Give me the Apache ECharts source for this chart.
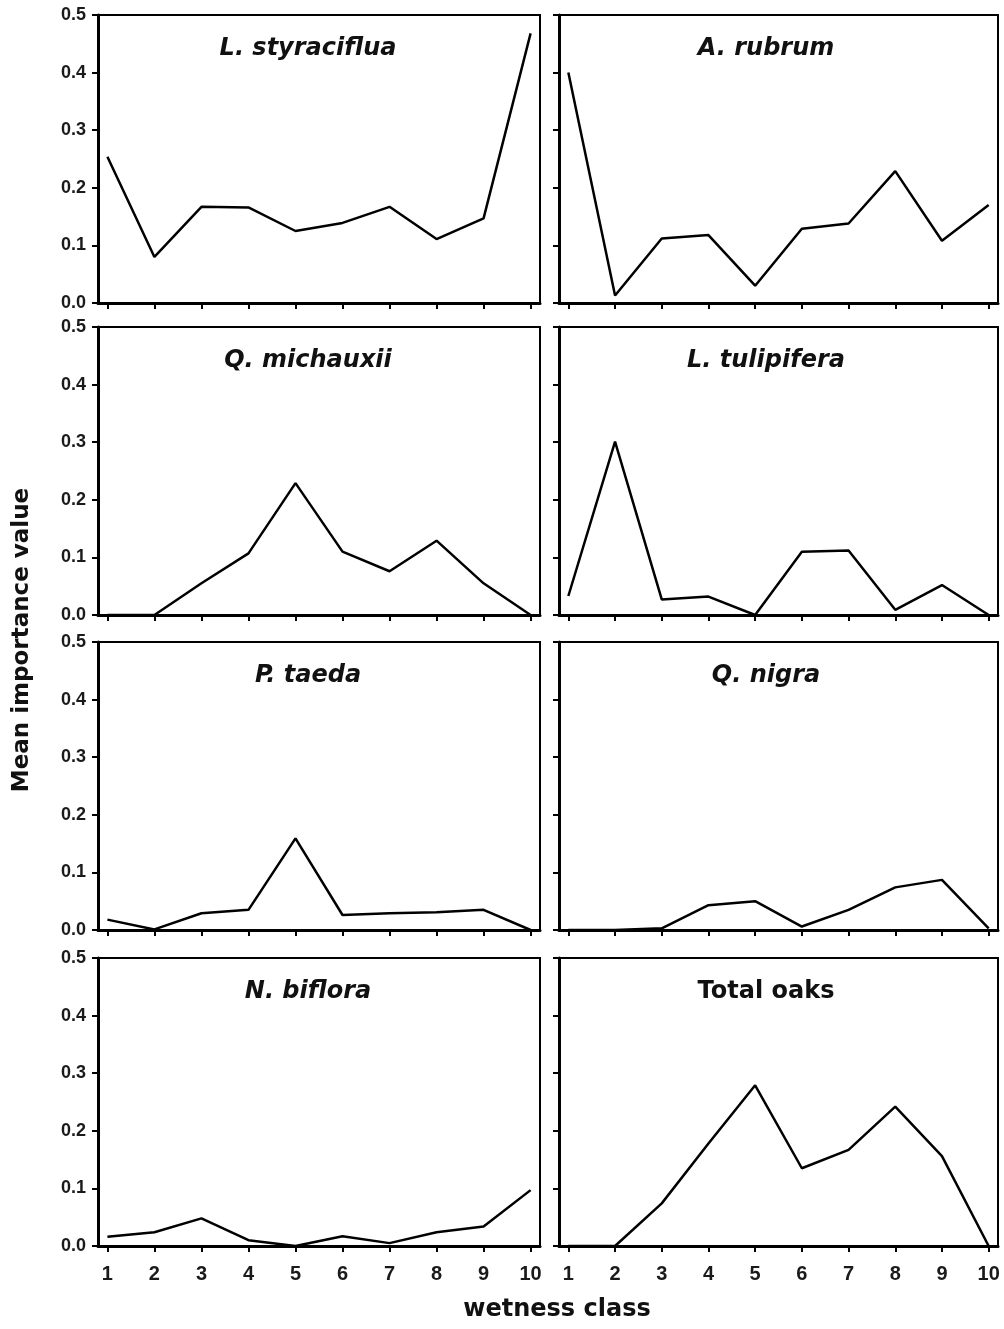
<!DOCTYPE html>
<html>
<head>
<meta charset="utf-8">
<script src="https://cdn.jsdelivr.net/npm/echarts@6/dist/echarts.min.js"></script>
<style>
  html, body { margin: 0; padding: 0; background: #fff; }
  #chart { width: 1004px; height: 1329px; }
</style>
</head>
<body>
<div id="chart"></div>
<script>
// wetness classes on the x axis
const classes = [1, 2, 3, 4, 5, 6, 7, 8, 9, 10]

// mean importance value per wetness class
const styraciflua = [0.254, 0.080, 0.167, 0.166, 0.125, 0.139, 0.167, 0.111, 0.147, 0.468]
const rubrum = [0.400, 0.013, 0.112, 0.118, 0.030, 0.129, 0.138, 0.229, 0.108, 0.170]
const michauxii = [0, 0, 0.055, 0.107, 0.229, 0.110, 0.076, 0.129, 0.055, 0]
const tulipifera = [0.033, 0.301, 0.027, 0.032, 0, 0.110, 0.112, 0.009, 0.052, 0]
const taeda = [0.018, 0.001, 0.029, 0.035, 0.159, 0.026, 0.029, 0.031, 0.035, 0]
const nigra = [0, 0, 0.003, 0.043, 0.050, 0.006, 0.035, 0.074, 0.087, 0.003]
const biflora = [0.016, 0.024, 0.048, 0.010, 0, 0.017, 0.005, 0.024, 0.034, 0.097]
const totalOaks = [0, 0, 0.074, 0.178, 0.279, 0.135, 0.167, 0.242, 0.156, 0]

const panelNames = ['L. styraciflua', 'A. rubrum', 'Q. michauxii', 'L. tulipifera', 'P. taeda', 'Q. nigra', 'N. biflora', 'Total oaks']
const panelData = [styraciflua, rubrum, michauxii, tulipifera, taeda, nigra, biflora, totalOaks]

// layout
const colLeft = [98, 559]
const colWidth = [442, 439]
const rowTop = [15, 327, 642, 958]
const rowHeight = 288
const titleX = [303, 761]

const grid = [], xAxis = [], yAxis = [], series = [], title = []

panelNames.forEach((name, i) => {
  const col = i % 2
  const row = Math.floor(i / 2)
  const bottomRow = row === 3
  grid.push({
    left: colLeft[col], top: rowTop[row], width: colWidth[col], height: rowHeight,
    show: true, borderColor: '#000', borderWidth: 2, backgroundColor: 'transparent'
  })
  xAxis.push({
    type: 'value', gridIndex: i, min: 0.8, max: 10.2,
    axisLine: { show: true, onZero: false, lineStyle: { color: '#000', width: 3 } },
    axisTick: { show: true, customValues: classes, length: 6, lineStyle: { color: '#000', width: 2 } },
    axisLabel: {
      show: bottomRow, customValues: classes, margin: 18,
      color: '#1a1a1a', fontFamily: 'Liberation Sans', fontWeight: 'bold', fontSize: 20
    },
    splitLine: { show: false }
  })
  yAxis.push({
    type: 'value', gridIndex: i, min: 0, max: 0.5, interval: 0.1,
    axisLine: { show: true, lineStyle: { color: '#000', width: 3 } },
    axisTick: { show: true, length: 6, lineStyle: { color: '#000', width: 2 } },
    axisLabel: {
      show: col === 0, margin: 12, formatter: v => v.toFixed(1),
      color: '#1a1a1a', fontFamily: 'Liberation Sans', fontWeight: 'bold', fontSize: 18
    },
    splitLine: { show: false }
  })
  series.push({
    type: 'line', xAxisIndex: i, yAxisIndex: i,
    data: classes.map((c, k) => [c, panelData[i][k]]),
    symbol: 'none', lineStyle: { color: '#000', width: 2.5 }, clip: false
  })
  title.push({
    text: name, left: titleX[col], top: rowTop[row] + 17, textAlign: 'center',
    textStyle: {
      fontFamily: 'DejaVu Sans', fontWeight: 'bold', fontSize: 24, color: '#111',
      fontStyle: name === 'Total oaks' ? 'normal' : 'italic'
    }
  })
})

const chart = echarts.init(document.getElementById('chart'))
chart.setOption({
  animation: false,
  backgroundColor: '#fff',
  title, grid, xAxis, yAxis, series,
  graphic: [
    {
      type: 'text', x: 22, y: 640, rotation: Math.PI / 2,
      style: { text: 'Mean importance value', font: 'bold 23px "DejaVu Sans"', fill: '#111', align: 'center', verticalAlign: 'middle' }
    },
    {
      type: 'text', x: 557, y: 1310,
      style: { text: 'wetness class', font: 'bold 24px "DejaVu Sans"', fill: '#111', align: 'center', verticalAlign: 'middle' }
    }
  ]
})
</script>
</body>
</html>
